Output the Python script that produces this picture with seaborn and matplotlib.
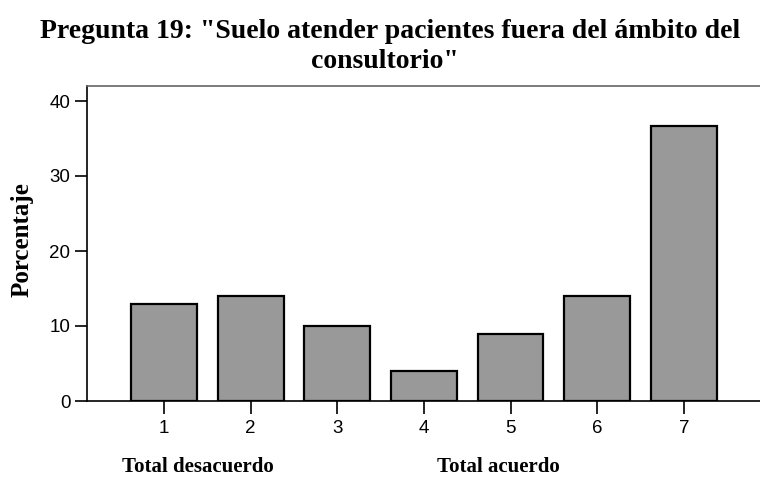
import matplotlib
matplotlib.use('Agg')
import matplotlib.pyplot as plt
import seaborn as sns
import pandas as pd

# Values
categories = ['1', '2', '3', '4', '5', '6', '7']
porcentaje = [13, 14, 10, 4, 9, 14, 36.7]
y_ticks = [0, 10, 20, 30, 40]
title_lines = ['Pregunta 19: "Suelo atender pacientes fuera del ámbito del',
               'consultorio"']

df = pd.DataFrame({'respuesta': categories, 'porcentaje': porcentaje})

sns.set_style('white')
serif = ['Liberation Serif', 'DejaVu Serif']
sans = ['Liberation Sans', 'DejaVu Sans']
plt.rcParams['font.family'] = sans
plt.rcParams['text.color'] = 'black'
plt.rcParams['xtick.color'] = 'black'
plt.rcParams['ytick.color'] = 'black'

fig = plt.figure(figsize=(7.6, 4.79), dpi=100)
ax = fig.add_axes([87 / 760, 1 - 401 / 479, 1 - 87 / 760, (401 - 86) / 479])

sns.barplot(data=df, x='respuesta', y='porcentaje', color='#999999',
            saturation=1, edgecolor='black', linewidth=1.6, width=0.76, ax=ax)

ax.set_xlim(-0.89, 6.88)
ax.set_ylim(0, 42)
ax.set_yticks(y_ticks)
ax.set_xlabel('')
ax.set_ylabel('')

for s in ['left', 'bottom']:
    ax.spines[s].set_color('black')
    ax.spines[s].set_linewidth(1.2)
ax.spines['top'].set_color('#666666')
ax.spines['top'].set_linewidth(1.2)
ax.spines['right'].set_visible(False)

ax.tick_params(axis='both', which='major', direction='out', length=9, width=1.2,
               color='black', labelcolor='black', labelsize=13.5,
               bottom=True, left=True)
ax.tick_params(axis='x', pad=5)
ax.tick_params(axis='y', pad=3)

# y label
fig.text(22 / 760, 1 - 240 / 479, 'Porcentaje', family=serif, fontweight='bold',
         fontsize=18, rotation=90, ha='center', va='center', color='black')

# two-line title, placed per baseline
fig.text(390 / 760, 1 - 38 / 479, title_lines[0], family=serif, fontweight='bold',
         fontsize=20, ha='center', va='baseline', color='black')
fig.text(385 / 760, 1 - 68 / 479, title_lines[1], family=serif, fontweight='bold',
         fontsize=20, ha='center', va='baseline', color='black')

fig.text(198 / 760, 1 - 467 / 479, 'Total desacuerdo', family=serif, fontweight='bold',
         fontsize=15, ha='center', va='center', color='black')
fig.text(498 / 760, 1 - 467 / 479, 'Total acuerdo', family=serif, fontweight='bold',
         fontsize=15, ha='center', va='center', color='black')

fig.savefig('out.png', dpi=100)
plt.close(fig)
